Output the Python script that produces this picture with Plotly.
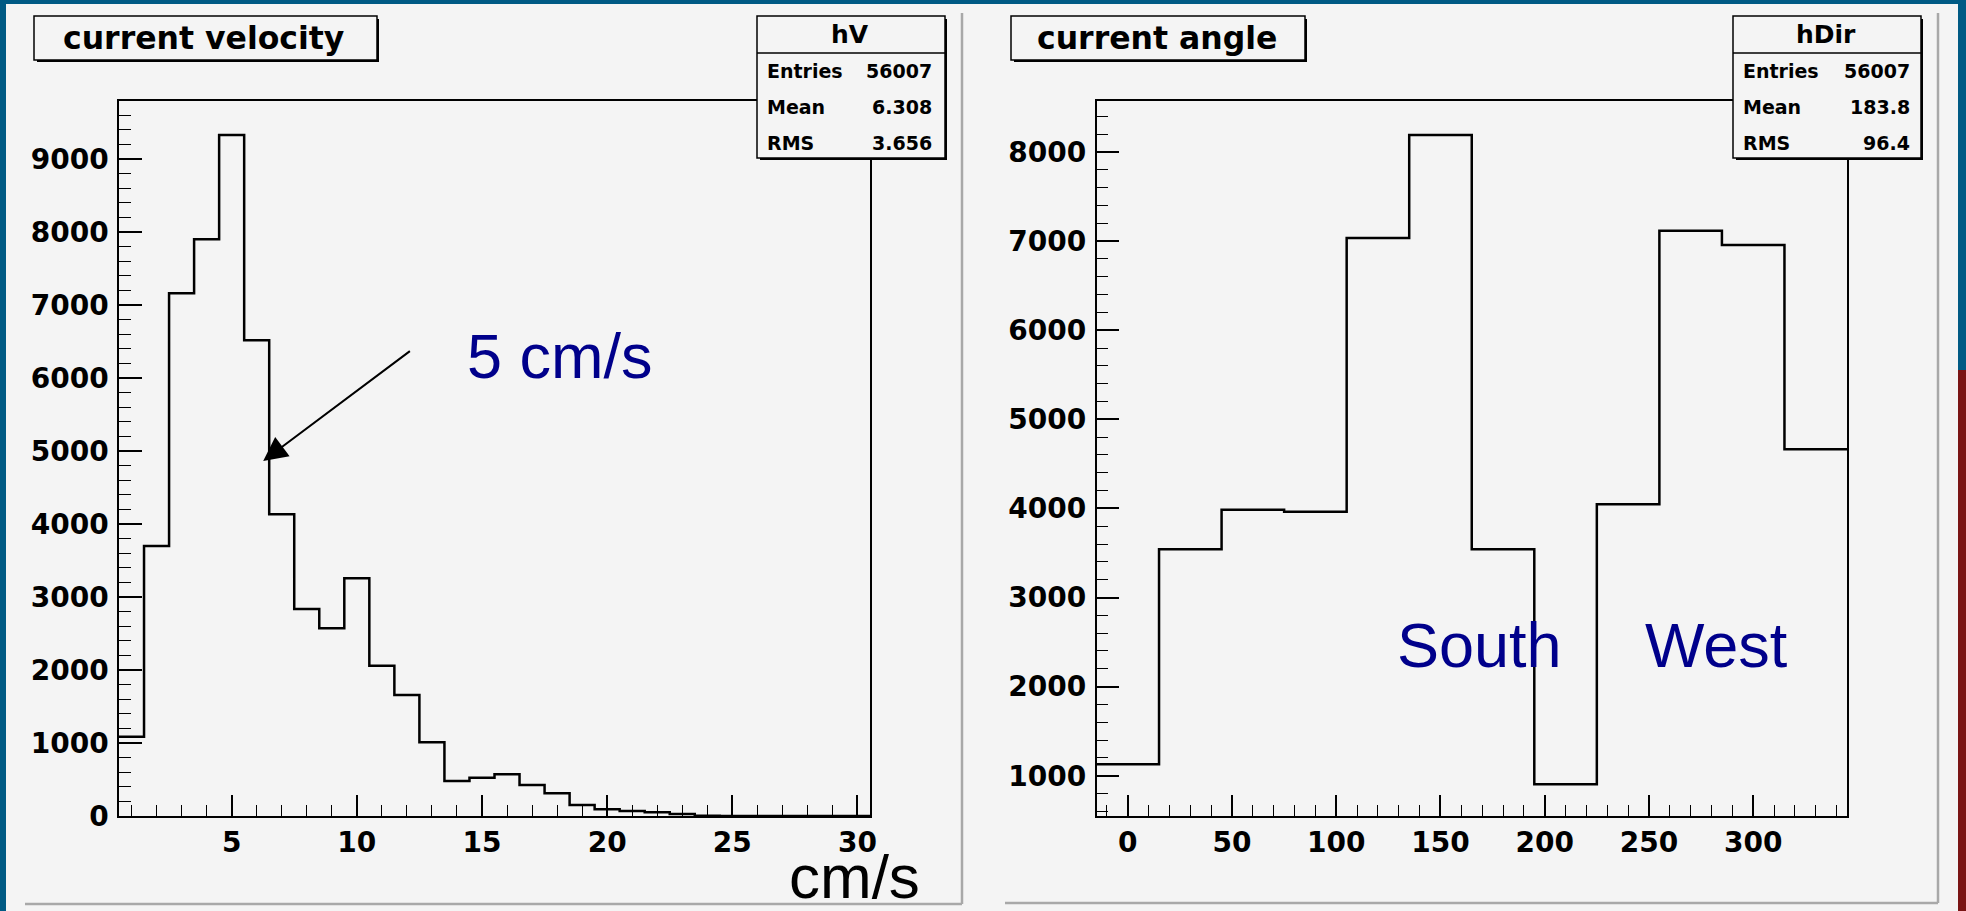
import plotly.graph_objects as go

W, H = 1966, 911

# ---------------- data ----------------
vel_bin_centers = list(range(1, 31))
vel_counts = [1086, 3699, 7160, 7900, 9329, 6516, 4133, 2836, 2571, 3256,
              2059, 1658, 1009, 479, 525, 571, 425, 311, 151, 92,
              68, 50, 27, 5, 0, 0, 0, 0, 0, 0]
vel_bin_width = 1

ang_bin_centers = [0, 30, 60, 90, 120, 150, 180, 210, 240, 270, 300, 330]
ang_counts = [1128, 3541, 3986, 3963, 7035, 8191, 3541, 903, 4046, 7117, 6956, 4663]
ang_bin_width = 30

vel_title = "current velocity"
ang_title = "current angle"
vel_stats_name = "hV"
ang_stats_name = "hDir"
stat_labels = ["Entries", "Mean", "RMS"]
vel_stat_values = ["56007", "6.308", "3.656"]
ang_stat_values = ["56007", "183.8", "96.4"]

# ---------------- helpers ----------------
def X(px):
    return px / W

def Y(py):
    return 1 - py / H

def steps(centers, counts, width):
    xs = [c - width / 2 for c in centers] + [centers[-1] + width / 2]
    ys = list(counts) + [counts[-1]]
    return xs, ys

BLUE = "#005a84"
PANEL = "#f4f4f4"
NAVY = "#00008b"
FONT = "DejaVu Sans"

fig = go.Figure()

vx, vy = steps(vel_bin_centers, vel_counts, vel_bin_width)
fig.add_trace(go.Scatter(x=vx, y=vy, mode="lines", line=dict(shape="hv", color="black", width=2.5),
                         xaxis="x", yaxis="y", showlegend=False, hoverinfo="skip"))
ax_, ay_ = steps(ang_bin_centers, ang_counts, ang_bin_width)
fig.add_trace(go.Scatter(x=ax_, y=ay_, mode="lines", line=dict(shape="hv", color="black", width=2.5),
                         xaxis="x2", yaxis="y2", showlegend=False, hoverinfo="skip"))

tickfont = dict(family=FONT, size=28, color="black", weight="bold")
common = dict(showgrid=False, zeroline=False, showline=True, linecolor="black", linewidth=1.5,
              mirror=True, ticks="inside", tickcolor="black", tickwidth=1.5,
              tickfont=tickfont, fixedrange=True, tickformat="d", automargin=False)

ydom = [Y(816), Y(101)]

fig.update_layout(
    width=W, height=H,
    margin=dict(l=0, r=0, t=0, b=0, pad=0, autoexpand=False),
    paper_bgcolor=BLUE,
    plot_bgcolor="rgba(0,0,0,0)",
    xaxis=dict(domain=[X(119), X(870)], range=[0.5, 30.5], tickmode="linear", tick0=0, dtick=5,
               ticklen=21, ticklabelstandoff=1,
               minor=dict(ticks="inside", ticklen=11, dtick=1, tick0=0, tickcolor="black", tickwidth=1.2),
               anchor="y", **common),
    yaxis=dict(domain=ydom, range=[0, 9795], tickmode="linear", tick0=0, dtick=1000,
               ticklen=23, ticklabelstandoff=3,
               minor=dict(ticks="inside", ticklen=12, dtick=200, tick0=0, tickcolor="black", tickwidth=1.2),
               anchor="x", **common),
    xaxis2=dict(domain=[X(1096.5), X(1847)], range=[-15, 345], tickmode="linear", tick0=0, dtick=50,
                ticklen=21, ticklabelstandoff=1,
                minor=dict(ticks="inside", ticklen=11, dtick=10, tick0=0, tickcolor="black", tickwidth=1.2),
                anchor="y2", **common),
    yaxis2=dict(domain=ydom, range=[548, 8572], tickmode="linear", tick0=0, dtick=1000,
                ticklen=23, ticklabelstandoff=3,
                minor=dict(ticks="inside", ticklen=12, dtick=200, tick0=0, tickcolor="black", tickwidth=1.2),
                anchor="x2", **common),
)

shapes = []
# light panel background
shapes.append(dict(type="rect", xref="paper", yref="paper", x0=X(6), x1=X(1958), y0=Y(911), y1=Y(4),
                   fillcolor=PANEL, line=dict(width=0), layer="below"))
# right edge red strip
shapes.append(dict(type="rect", xref="paper", yref="paper", x0=X(1958), x1=X(1966), y0=Y(911), y1=Y(370),
                   fillcolor="#7a1414", line=dict(width=0), layer="below"))
# panel gray borders
for (x0, y0, x1, y1) in [(962, 13, 962, 904), (25, 904, 962, 904),
                         (1938, 13, 1938, 903), (1005, 903, 1938, 903)]:
    shapes.append(dict(type="line", xref="paper", yref="paper", x0=X(x0), x1=X(x1), y0=Y(y0), y1=Y(y1),
                       line=dict(color="#a8a8a8", width=2.5), layer="below"))

def box(x0, y0, x1, y1, divider=None):
    out = [dict(type="rect", xref="paper", yref="paper", x0=X(x0 + 3), x1=X(x1 + 2), y0=Y(y1 + 2), y1=Y(y0 + 3),
                fillcolor="black", line=dict(width=0), layer="above"),
           dict(type="rect", xref="paper", yref="paper", x0=X(x0), x1=X(x1), y0=Y(y1), y1=Y(y0),
                fillcolor=PANEL, line=dict(color="black", width=1.5), layer="above")]
    if divider is not None:
        out.append(dict(type="line", xref="paper", yref="paper", x0=X(x0), x1=X(x1), y0=Y(divider), y1=Y(divider),
                        line=dict(color="black", width=1.5), layer="above"))
    return out

shapes += box(34, 16, 377, 60)
shapes += box(1011, 16, 1305, 60)
shapes += box(757, 16, 945, 158, divider=53)
shapes += box(1733, 16, 1921, 158, divider=53)
fig.update_layout(shapes=shapes)

ann = []
def text(t, x, y, size, color="black", bold=True, xanchor="center", family=FONT):
    f = dict(family=family, size=size, color=color)
    if bold:
        f["weight"] = "bold"
    ann.append(dict(text=t, x=X(x), y=Y(y), xref="paper", yref="paper", showarrow=False,
                    xanchor=xanchor, yanchor="middle", font=f))

text(vel_title, 203.5, 38, 31.5)
text(ang_title, 1157, 38, 31.5)
text(vel_stats_name, 850, 35, 25)
text(ang_stats_name, 1826, 35, 25)
rows_y = [70.7, 107.3, 142.7]
for lab, v1, v2, ry in zip(stat_labels, vel_stat_values, ang_stat_values, rows_y):
    text(lab, 765, ry, 19, xanchor="left")
    text(v1, 934, ry, 19, xanchor="right")
    text(lab, 1741, ry, 19, xanchor="left")
    text(v2, 1912, ry, 19, xanchor="right")

text("5 cm/s", 560, 356, 63, color=NAVY, bold=False, family="Liberation Sans")
text("cm/s", 854, 876, 62, color="black", bold=False, family="Liberation Sans")
text("South", 1479, 645, 63, color=NAVY, bold=False, family="Liberation Sans")
text("West", 1716, 645, 63, color=NAVY, bold=False, family="Liberation Sans")

ann.append(dict(x=6.26, y=4863, ax=12.18, ay=6384, xref="x", yref="y", axref="x", ayref="y",
                showarrow=True, arrowhead=2, arrowsize=2.4, arrowwidth=2, arrowcolor="black", text=""))

fig.update_layout(annotations=ann)

fig.write_html("out.html")
